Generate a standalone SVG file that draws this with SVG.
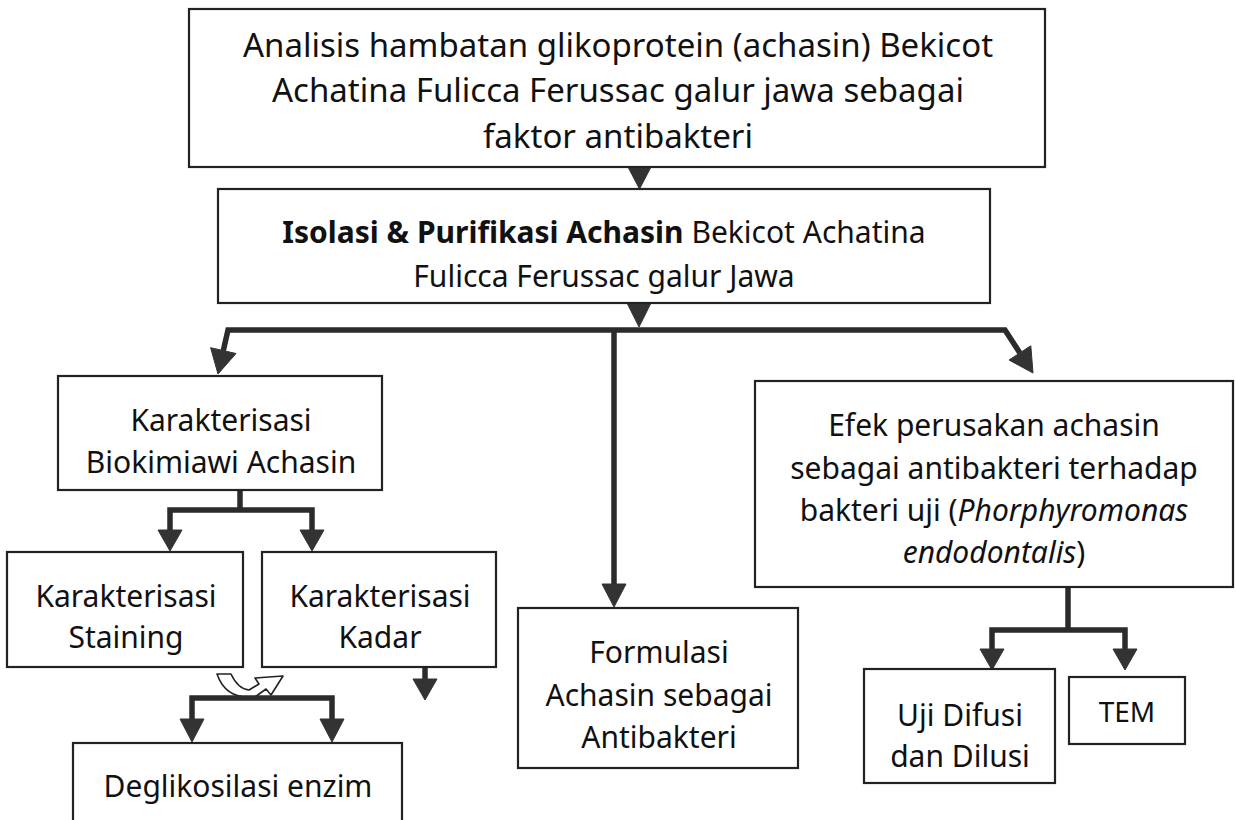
<svg xmlns="http://www.w3.org/2000/svg" width="1236" height="820" viewBox="0 0 1236 820">
  <style>
    .box { fill: #ffffff; stroke: #222222; stroke-width: 2.2; }
    .t { font-family: "Noto Sans", "Liberation Sans", sans-serif; font-size: 30px; fill: #111111; text-anchor: middle; }
    .big { font-size: 33px; }
    .b { font-weight: bold; }
    .i { font-style: italic; }
    .wire { fill: none; stroke: #2b2b2b; stroke-width: 5.5; stroke-linejoin: miter; }
    .head { fill: #333333; stroke: #333333; stroke-width: 1; stroke-linejoin: round; }
    .curl { fill: #ffffff; stroke: #222222; stroke-width: 1.6; stroke-linejoin: round; }
  </style>
  <rect width="1236" height="820" fill="#ffffff"/>

  <g id="connectors">
    <!-- top box to second box -->
    <polygon class="head" points="628,167 651,167 639.5,189"/>
    <!-- second box to main bar -->
    <polygon class="head" points="627,303 651,303 639,327"/>
    <!-- main bar with left and right bends -->
    <polyline class="wire" points="223.3,350.6 228,330 1005,330 1019.9,352.9"/>
    <polygon class="head" points="236,353.5 210.6,347.7 218,374"/>
    <polygon class="head" points="1030.8,345.8 1009,360 1033,373"/>
    <!-- center vertical to Formulasi -->
    <line class="wire" x1="614" y1="330" x2="614" y2="586"/>
    <polygon class="head" points="602,584 626,584 614,607"/>
    <!-- Biokimiawi split -->
    <line class="wire" x1="240" y1="490" x2="240" y2="510"/>
    <polyline class="wire" points="170,531 170,510 312,510 312,531"/>
    <polygon class="head" points="158,530 182,530 170,551"/>
    <polygon class="head" points="300,530 324,530 312,551"/>
    <!-- Kadar down arrow -->
    <line class="wire" x1="425" y1="667" x2="425" y2="681"/>
    <polygon class="head" points="413,679 437,679 425,700"/>
    <!-- curved exchange symbol -->
    <path class="curl" d="M217,674 L231,674 Q238,689 249,690 L259,684 L255,678 L283,676 L271,695 L266,689 L255,697 Q226,700 217,674 Z"/>
    <!-- Deglikosilasi split -->
    <polyline class="wire" points="192,721 192,698 332,698 332,721"/>
    <polygon class="head" points="180,719 204,719 192,742"/>
    <polygon class="head" points="320,719 344,719 332,742"/>
    <!-- Efek split -->
    <line class="wire" x1="1068" y1="587" x2="1068" y2="630"/>
    <polyline class="wire" points="992,650 992,630 1125,630 1125,650"/>
    <polygon class="head" points="980,649 1004,649 992,670"/>
    <polygon class="head" points="1113,649 1137,649 1125,670"/>
  </g>

  <g id="node-analisis">
    <rect class="box" x="189" y="9" width="856" height="158"/>
    <text class="t big" x="618" y="57">Analisis hambatan glikoprotein (achasin) Bekicot</text>
    <text class="t big" x="618" y="102">Achatina Fulicca Ferussac galur jawa sebagai</text>
    <text class="t big" x="618" y="148">faktor antibakteri</text>
  </g>

  <g id="node-isolasi">
    <rect class="box" x="218" y="189" width="772" height="114"/>
    <text class="t" x="604" y="243"><tspan class="b">Isolasi &amp; Purifikasi Achasin</tspan> Bekicot Achatina</text>
    <text class="t" x="604" y="287">Fulicca Ferussac galur Jawa</text>
  </g>

  <g id="node-biokimiawi">
    <rect class="box" x="58" y="376" width="324" height="114"/>
    <text class="t" x="221" y="431">Karakterisasi</text>
    <text class="t" x="221" y="473">Biokimiawi Achasin</text>
  </g>

  <g id="node-staining">
    <rect class="box" x="7" y="552" width="236" height="115"/>
    <text class="t" x="126" y="607">Karakterisasi</text>
    <text class="t" x="126" y="648">Staining</text>
  </g>

  <g id="node-kadar">
    <rect class="box" x="262" y="552" width="234" height="115"/>
    <text class="t" x="380" y="607">Karakterisasi</text>
    <text class="t" x="380" y="648">Kadar</text>
  </g>

  <g id="node-deglikosilasi">
    <rect class="box" x="73" y="743" width="329" height="90"/>
    <text class="t" x="238" y="797">Deglikosilasi enzim</text>
  </g>

  <g id="node-formulasi">
    <rect class="box" x="518" y="608" width="280" height="160"/>
    <text class="t" x="659" y="663">Formulasi</text>
    <text class="t" x="659" y="706">Achasin sebagai</text>
    <text class="t" x="659" y="748">Antibakteri</text>
  </g>

  <g id="node-efek">
    <rect class="box" x="755" y="381" width="478" height="206"/>
    <text class="t" x="994" y="436">Efek perusakan achasin</text>
    <text class="t" x="994" y="479">sebagai antibakteri terhadap</text>
    <text class="t" x="994" y="521">bakteri uji (<tspan class="i">Phorphyromonas</tspan></text>
    <text class="t" x="994" y="563"><tspan class="i">endodontalis</tspan>)</text>
  </g>

  <g id="node-uji">
    <rect class="box" x="864" y="669" width="191" height="114"/>
    <text class="t" x="960" y="726">Uji Difusi</text>
    <text class="t" x="960" y="767">dan Dilusi</text>
  </g>

  <g id="node-tem">
    <rect class="box" x="1069" y="677" width="116" height="67"/>
    <text class="t" x="1127" y="722" style="font-size:28px">TEM</text>
  </g>
</svg>
